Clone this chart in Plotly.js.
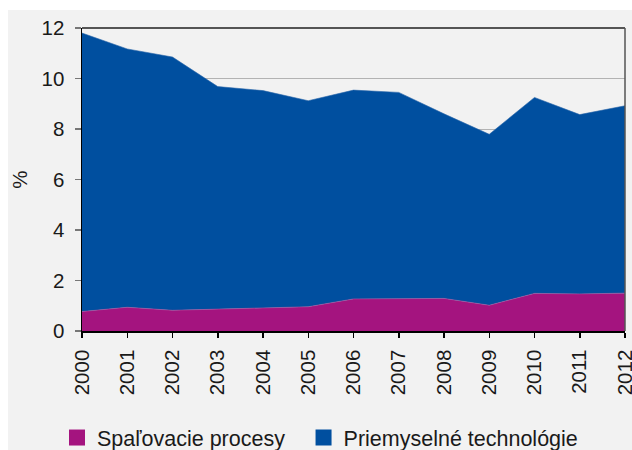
<!DOCTYPE html>
<html>
<head>
<meta charset="utf-8">
<script src="https://cdn.plot.ly/plotly-3.0.1.min.js"></script>
<style>html,body{margin:0;padding:0;background:#fff;}#chart{width:632px;height:450px;}</style>
</head>
<body>
<div id="chart"></div>
<script>
var years = [2000,2001,2002,2003,2004,2005,2006,2007,2008,2009,2010,2011,2012];
var seriesNames = ["Spaľovacie procesy", "Priemyselné technológie"];
var spalovacie = [0.77,0.94,0.82,0.86,0.90,0.96,1.27,1.29,1.29,1.02,1.49,1.47,1.50];
var priemyselne = [11.03,10.23,10.03,8.82,8.62,8.16,8.27,8.16,7.31,6.77,7.76,7.10,7.42];
var colors = ["#a4147f", "#004f9f"];
var yTicks = [0,2,4,6,8,10,12];
var yLabel = "%";

var font = "Liberation Sans, Arial, Helvetica, sans-serif";
var data = [
  {x: years, y: spalovacie, type: "scatter", mode: "lines", stackgroup: "one",
   line: {width: 0.6, color: "#b5529c"}, fillcolor: colors[0], showlegend: false, hoverinfo: "skip"},
  {x: years, y: priemyselne, type: "scatter", mode: "lines", stackgroup: "one",
   line: {width: 0.6, color: "#2a66aa"}, fillcolor: colors[1], showlegend: false, hoverinfo: "skip"},
  {x: [null], y: [null], type: "scatter", mode: "markers", name: seriesNames[0], legend: "legend",
   marker: {symbol: "square", size: 16, color: colors[0]}},
  {x: [null], y: [null], type: "scatter", mode: "markers", name: seriesNames[1], legend: "legend2",
   marker: {symbol: "square", size: 16, color: colors[1]}}
];

var legendBase = {orientation: "h", xanchor: "left", y: -0.284, yanchor: "top",
  font: {size: 21.5, color: "#1a1a1a", family: font}, bgcolor: "rgba(0,0,0,0)", itemwidth: 30};

var layout = {
  width: 632, height: 450,
  margin: {l: 82, r: 7, t: 28, b: 119, autoexpand: false},
  paper_bgcolor: "#f2f2f2",
  plot_bgcolor: "#f2f2f2",
  font: {family: font, size: 20, color: "#1a1a1a"},
  showlegend: true,
  legend: Object.assign({}, legendBase, {x: -0.046}),
  legend2: Object.assign({}, legendBase, {x: 0.408}),
  xaxis: {range: [2000, 2012], tickvals: years, ticktext: years.map(String), tickangle: -90,
          showgrid: false, zeroline: false, showline: true, linecolor: "#000", linewidth: 1.5,
          ticks: "outside", ticklen: 5, tickcolor: "#000", tickwidth: 1.5,
          ticklabeloverflow: "allow", automargin: false, ticklabelstandoff: 4,
          tickfont: {size: 20.5, family: font, color: "#1a1a1a"}, fixedrange: true},
  yaxis: {range: [0, 12], tickvals: yTicks, showgrid: true, gridcolor: "#b3b3b3", gridwidth: 1,
          zeroline: false, showline: true, linecolor: "#000", linewidth: 1.5,
          ticks: "outside", ticklen: 6, tickcolor: "#777", tickwidth: 1.5,
          ticklabelstandoff: 6, automargin: false,
          tickfont: {size: 20.5, family: font, color: "#1a1a1a"},
          title: {text: yLabel, standoff: 8, font: {size: 20.5, family: font, color: "#1a1a1a"}},
          fixedrange: true},
  shapes: [
    {type: "rect", xref: "paper", yref: "paper", x0: -0.2, x1: 1.1, y0: 1.0594, y1: 1.2,
     fillcolor: "#ffffff", line: {width: 0}, layer: "below"},
    {type: "rect", xref: "paper", yref: "paper", x0: -0.2, x1: -0.1363, y0: -0.5, y1: 1.2,
     fillcolor: "#ffffff", line: {width: 0}, layer: "below"},
    {type: "line", xref: "paper", yref: "paper", x0: 0, x1: 1, y0: 1, y1: 1,
     line: {color: "#555555", width: 2}},
    {type: "line", xref: "paper", yref: "paper", x0: 1, x1: 1, y0: 0, y1: 1,
     line: {color: "#555555", width: 1.5}}
  ]
};

Plotly.newPlot("chart", data, layout, {displayModeBar: false, staticPlot: true});
</script>
</body>
</html>
